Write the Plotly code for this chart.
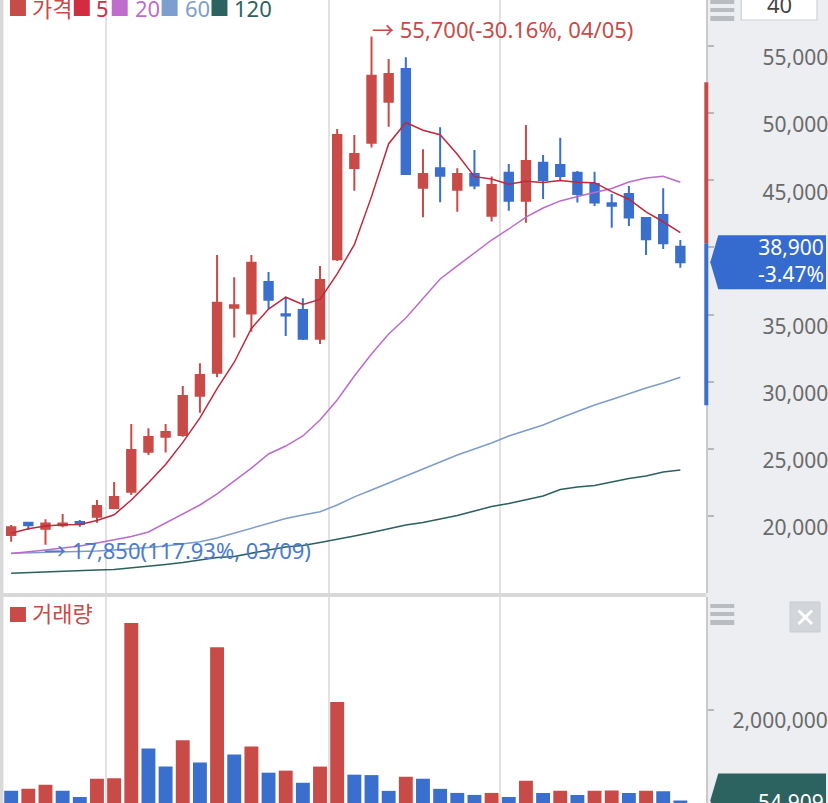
import plotly.graph_objects as go

# ---------------- data ----------------
dates = ["03/05", "03/08", "03/09", "03/10", "03/11", "03/12", "03/15", "03/16", "03/17", "03/18",
         "03/19", "03/22", "03/23", "03/24", "03/25", "03/26", "03/29", "03/30", "03/31", "04/01",
         "04/02", "04/05", "04/06", "04/07", "04/08", "04/09", "04/12", "04/13", "04/14", "04/15",
         "04/16", "04/19", "04/20", "04/21", "04/22", "04/23", "04/26", "04/27", "04/28", "04/29"]

opens = [18590, 19500, 19050, 19310, 19550, 19950, 20600, 21810, 24790, 25900,
         26030, 28960, 30670, 35510, 35070, 37430, 35020, 35340, 33200, 39120,
         45910, 47800, 50850, 53290, 44450, 45890, 44300, 45470, 42360, 45560,
         43480, 46310, 46140, 45560, 44720, 43280, 43980, 42190, 42410, 40050]
highs = [19330, 19500, 19750, 20150, 19700, 21190, 22530, 26850, 26530, 26850,
         29680, 31370, 39430, 37770, 39430, 38170, 36330, 36210, 38620, 48820,
         48370, 55700, 54030, 54160, 47300, 48940, 45890, 47250, 45270, 46210,
         49120, 46880, 48170, 45690, 45640, 43980, 44570, 42190, 44400, 40550]
lows = [18090, 18960, 17850, 19160, 19200, 19500, 20500, 21570, 24540, 24720,
        25900, 27690, 30330, 33300, 33720, 35410, 33400, 33100, 32810, 38990,
        44220, 47430, 48990, 45470, 42240, 43360, 42660, 44330, 41920, 42730,
        41840, 43600, 45020, 43340, 43080, 41470, 41600, 39440, 39880, 38490]
closes = [19160, 19310, 19450, 19450, 19400, 20750, 21420, 24920, 25880, 26250,
          28940, 30500, 35880, 35690, 38860, 36110, 34920, 33200, 37570, 48370,
          46950, 52790, 52910, 45470, 45470, 45340, 45470, 44600, 44650, 43480,
          46440, 45020, 45320, 43980, 43340, 43100, 42220, 40600, 40300, 38900]

ma5 = [18720, 19050, 19250, 19340, 19360, 19670, 20090, 21190, 22470, 23840,
       25480, 27300, 29490, 31450, 33970, 35410, 36290, 35750, 36130, 38030,
       40200, 43780, 47720, 49300, 48720, 48390, 46930, 45270, 45100, 44710,
       44930, 44840, 44980, 44850, 44820, 44150, 43590, 42650, 41910, 41100]
ma20 = [17210, 17320, 17470, 17620, 17770, 17990, 18210, 18470, 18810, 19480,
        20110, 20820, 21640, 22610, 23570, 24620, 25210, 25960, 27150, 28640,
        30420, 32060, 33550, 34740, 36160, 37650, 38620, 39580, 40550, 41370,
        42260, 42930, 43460, 43790, 44090, 44390, 44870, 45170, 45300, 44850]
ma60 = [17220, 17250, 17280, 17320, 17360, 17390, 17470, 17540, 17660, 17770,
        17920, 18090, 18360, 18730, 19110, 19480, 19810, 20070, 20320, 20820,
        21420, 21940, 22460, 22980, 23500, 24020, 24540, 24990, 25440, 25960,
        26370, 26780, 27300, 27780, 28270, 28680, 29120, 29530, 29900, 30330]
ma120 = [15730, 15790, 15830, 15910, 15940, 15980, 16020, 16130, 16240, 16390,
         16540, 16720, 16910, 16980, 17250, 17470, 17690, 17800, 18030, 18250,
         18510, 18770, 19030, 19330, 19520, 19780, 20040, 20370, 20710, 20930,
         21190, 21490, 21970, 22160, 22270, 22530, 22790, 22980, 23280, 23430]

volumes = [261000, 304000, 391000, 261000, 130000, 522000, 530000, 3870000, 1174000, 783000,
           1348000, 870000, 3348000, 1043000, 1217000, 652000, 696000, 435000, 783000, 2174000,
           609000, 600000, 261000, 565000, 522000, 304000, 217000, 174000, 217000, 130000,
           478000, 217000, 261000, 174000, 261000, 270000, 217000, 261000, 255000, 54909]
prev_volume = 300000

prev_close = 40300
limit_up = 52300
limit_down = 28250

price_ticks = [20000, 25000, 30000, 35000, 40000, 45000, 50000, 55000]
price_tick_text = ["20,000", "25,000", "30,000", "35,000", "", "45,000", "50,000", "55,000"]
volume_ticks = [2000000]
volume_tick_text = ["2,000,000"]

# ---------------- styling ----------------
W, H = 828, 803
RED = "#c84b48"
BLUE = "#3a6fcd"
MA_COLORS = {"5": "#c0283c", "20": "#bb6bcb", "60": "#7c9dcc", "120": "#2b605d"}
FONT = "Noto Sans, Noto Sans CJK KR, sans-serif"
PANEL = "#eceef2"


def fx(p):
    return p / W


def fy(p):
    return 1 - p / H


n = len(closes)
x = list(range(n))
spacing, first = 17.2, 11.2
x_range = [(4 - first) / spacing, (708 - first) / spacing]

fig = go.Figure()

for name, vals in [("120", ma120), ("60", ma60), ("20", ma20), ("5", ma5)]:
    fig.add_trace(go.Scatter(x=x, y=vals, mode="lines", name=name,
                             line=dict(color=MA_COLORS[name], width=1.5),
                             hoverinfo="skip", xaxis="x", yaxis="y"))

fig.add_trace(go.Candlestick(
    x=x, open=opens, high=highs, low=lows, close=closes, name="가격",
    increasing=dict(line=dict(color=RED, width=2), fillcolor=RED),
    decreasing=dict(line=dict(color=BLUE, width=2), fillcolor=BLUE),
    whiskerwidth=0, xaxis="x", yaxis="y"))

prev = [prev_volume] + volumes[:-1]
vol_colors = [RED if v > p else BLUE for v, p in zip(volumes, prev)]
fig.add_trace(go.Bar(x=x, y=volumes, name="거래량", width=0.81,
                     marker=dict(color=vol_colors, line=dict(width=0)),
                     xaxis="x2", yaxis="y2"))

# gridline positions: half-month boundaries
grid_x = []
for i in range(1, n):
    m0, d0 = dates[i - 1].split("/")
    m1, d1 = dates[i].split("/")
    if m0 != m1 or (int(d0) < 15 <= int(d1)):
        grid_x.append(i - 0.5)

axis_common = dict(domain=[fx(4), fx(708)], range=x_range, tickvals=grid_x,
                   showgrid=True, gridcolor="#e2e2e2", gridwidth=2,
                   showticklabels=False, ticks="", zeroline=False, showline=False)

price_dom = [fy(593), 1]
vol_dom = [0, fy(597)]
p_top = 20000 + 516 * 74.46
p_bot = 20000 - (593 - 516) * 74.46
v_top = 2000000 * (803 - 597) / 93.0

fig.update_layout(
    width=W, height=H, margin=dict(l=0, r=0, t=0, b=0),
    paper_bgcolor=PANEL, plot_bgcolor="white", showlegend=False,
    font=dict(family=FONT),
    xaxis=dict(anchor="y", rangeslider=dict(visible=False), **axis_common),
    xaxis2=dict(anchor="y2", matches="x", **axis_common),
    yaxis=dict(domain=price_dom, range=[p_bot, p_top], side="right", anchor="x",
               tickvals=price_ticks, ticktext=price_tick_text, ticks="outside", ticklen=6,
               tickwidth=1.5, tickcolor="#b8b8b8", showgrid=False, zeroline=False,
               showline=True, linecolor="#cacaca", linewidth=2,
               tickfont=dict(size=21, color="#6a6a6a", family=FONT),
               ticklabelshift=12, ticklabelstandoff=44),
    yaxis2=dict(domain=vol_dom, range=[0, v_top], side="right", anchor="x2",
                tickvals=volume_ticks, ticktext=volume_tick_text, ticks="outside", ticklen=6,
                tickwidth=1.5, tickcolor="#b8b8b8", showgrid=False, zeroline=False,
                showline=True, linecolor="#cacaca", linewidth=2,
                tickfont=dict(size=21, color="#6a6a6a", family=FONT),
                ticklabelshift=11, ticklabelstandoff=14),
)

shapes = []
# left border and separator
shapes.append(dict(type="rect", xref="paper", yref="paper", x0=0, x1=fx(3), y0=0, y1=1,
                   fillcolor="#d9d9d9", line=dict(width=0), layer="above"))
shapes.append(dict(type="rect", xref="paper", yref="paper", x0=0, x1=fx(708),
                   y0=fy(597), y1=fy(593), fillcolor="#d9d9d9", line=dict(width=0), layer="above"))
# price limit bar
shapes.append(dict(type="rect", xref="paper", yref="y", x0=fx(706), x1=fx(710),
                   y0=prev_close, y1=limit_up, fillcolor=RED, line=dict(width=0), layer="above"))
shapes.append(dict(type="rect", xref="paper", yref="y", x0=fx(706), x1=fx(710),
                   y0=limit_down, y1=prev_close, fillcolor=BLUE, line=dict(width=0), layer="above"))

tag_path = (f"M {fx(712)},0 L {fx(720)},27 L 1,27 L 1,-27 L {fx(720)},-27 Z")
shapes.append(dict(type="path", xref="paper", yref="y", ysizemode="pixel", yanchor=closes[-1],
                   path=tag_path, fillcolor="#356bcf", line=dict(width=0), layer="above"))
shapes.append(dict(type="path", xref="paper", yref="y2", ysizemode="pixel", yanchor=volumes[-1],
                   path=tag_path, fillcolor="#2c625f", line=dict(width=0), layer="above"))

# menu icons
for top in (0, 604):
    for off, h in ((0, 4), (8, 4), (16, 5)):
        y0 = top + off
        shapes.append(dict(type="rect", xref="paper", yref="paper", x0=fx(712), x1=fx(736),
                           y0=fy(y0 + h), y1=fy(y0), fillcolor="#b9bcc1", line=dict(width=0)))
# period box
shapes.append(dict(type="rect", xref="paper", yref="paper", x0=fx(743), x1=fx(819),
                   y0=fy(20), y1=fy(-6), fillcolor="white", line=dict(color="#cfd1d4", width=1.2)))
# close button
shapes.append(dict(type="rect", xref="paper", yref="paper", x0=fx(792), x1=fx(822),
                   y0=fy(632), y1=fy(602), fillcolor="#d2d5da", line=dict(color="#c8cbd0", width=1)))
shapes.append(dict(type="line", xref="paper", yref="paper", x0=fx(800.5), x1=fx(814),
                   y0=fy(610.5), y1=fy(624), line=dict(color="white", width=3)))
shapes.append(dict(type="line", xref="paper", yref="paper", x0=fx(800.5), x1=fx(814),
                   y0=fy(624), y1=fy(610.5), line=dict(color="white", width=3)))

# legend squares
legend_items = [("가격", RED, 10, 30), ("5", "#d42c3f", 74, 94), ("20", "#bf6ccd", 112, 133),
                ("60", "#7c9fcf", 162, 183), ("120", "#2b6360", 212, 233)]
annotations = []
for label, col, sx, tx in legend_items:
    shapes.append(dict(type="rect", xref="paper", yref="paper", x0=fx(sx), x1=fx(sx + 16),
                       y0=fy(16), y1=fy(-1), fillcolor=col, line=dict(width=0)))
    annotations.append(dict(xref="paper", yref="paper", x=fx(tx), y=fy(8), xanchor="left",
                            yanchor="middle", text=label, showarrow=False,
                            font=dict(size=22, color=col, family=FONT)))
shapes.append(dict(type="rect", xref="paper", yref="paper", x0=fx(10), x1=fx(26),
                   y0=fy(622), y1=fy(607), fillcolor=RED, line=dict(width=0)))
annotations.append(dict(xref="paper", yref="paper", x=fx(30), y=fy(613), xanchor="left",
                        yanchor="middle", text="거래량", showarrow=False,
                        font=dict(size=22, color=RED, family=FONT)))

# high / low markers
hi_i = max(range(n), key=lambda i: highs[i])
lo_i = min(range(n), key=lambda i: lows[i])
last = closes[-1]
hi_txt = f"→ {highs[hi_i]:,}({(last / highs[hi_i] - 1) * 100:.2f}%, {dates[hi_i]})"
lo_txt = f"→ {lows[lo_i]:,}({(last / lows[lo_i] - 1) * 100:.2f}%, {dates[lo_i]})"
annotations.append(dict(xref="x", yref="y", x=hi_i, y=highs[hi_i], xanchor="left",
                        yanchor="middle", yshift=8, xshift=-2, text=hi_txt, showarrow=False,
                        font=dict(size=22, color=RED, family=FONT)))
annotations.append(dict(xref="x", yref="y", x=lo_i, y=lows[lo_i], xanchor="left",
                        yanchor="middle", yshift=-5, xshift=-3, text=lo_txt, showarrow=False,
                        font=dict(size=22, color="#4a7bd0", family=FONT)))

# current price / volume tags
chg = (last / prev_close - 1) * 100
annotations.append(dict(xref="paper", yref="y", x=1, y=last, xanchor="right", yanchor="middle",
                        yshift=2, text=f"{last:,}<br>{chg:.2f}%", showarrow=False, align="right",
                        font=dict(size=21, color="white", family=FONT)))
annotations.append(dict(xref="paper", yref="y2", x=1, y=volumes[-1], xanchor="right",
                        yanchor="middle", yshift=-2, text=f"{volumes[-1]:,}", showarrow=False,
                        font=dict(size=21, color="white", family=FONT)))
annotations.append(dict(xref="paper", yref="paper", x=fx(781), y=fy(4), xanchor="center",
                        yanchor="middle", text="40", showarrow=False,
                        font=dict(size=22, color="#444444", family=FONT)))

fig.update_layout(shapes=shapes, annotations=annotations)
fig.write_html("out.html")
